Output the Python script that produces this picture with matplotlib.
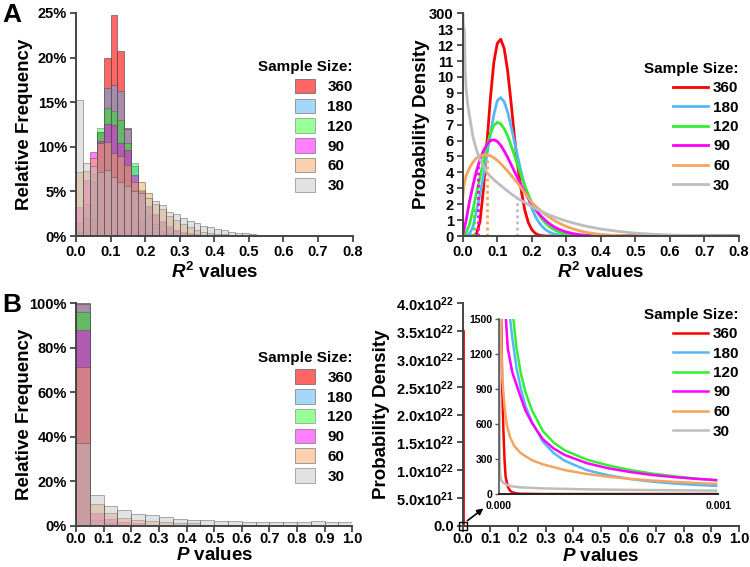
import numpy as np
import matplotlib
matplotlib.use('Agg')
import matplotlib.pyplot as plt

plt.rcParams.update({
    'font.family': ['Liberation Sans', 'DejaVu Sans'],
    'font.weight': 'bold',
    'axes.labelweight': 'bold',
    'mathtext.fontset': 'custom',
    'mathtext.rm': 'Liberation Sans:bold',
    'mathtext.bf': 'Liberation Sans:bold',
    'mathtext.it': 'Liberation Sans:bold:italic',
    'mathtext.default': 'rm',
})

# ---------------- data ----------------
sample_sizes = ['360', '180', '120', '90', '60', '30']
line_colors = ['#FF0000', '#55B8F5', '#33EE33', '#FF00FF', '#F4A460', '#BDBDBD']
fill_colors = ['#FF0000', '#4FB0F0', '#00FF00', '#FF00FF', '#F4A460', '#C0C0C0']
fill_alpha = [0.6, 0.5, 0.4, 0.5, 0.5, 0.45]

# Panel A left: R^2 histograms (% per 0.02 bin starting at 0)
r2_bin_width = 0.02
r2_hist_360 = [0, 0.1, 1.9, 11.7, 19.9, 24.8, 20.7, 12.1, 5.2, 1.8, 0.5, 0.1]
r2_hist_180 = [0.4, 2.0, 6.0, 11.7, 16.6, 16.9, 16.2, 12.0, 7.8, 4.6, 2.4, 1.3, 0.6, 0.3, 0.12, 0.05]
r2_hist_120 = [1.5, 3.6, 7.0, 12.07, 14.4, 14.0, 13.0, 10.4, 8.2, 5.2, 3.4, 2.4, 1.6, 0.95, 0.6, 0.35,
               0.2, 0.1, 0.05]
r2_hist_90 = [3.2, 6.3, 9.45, 10.6, 12.6, 12.5, 10.4, 9.6, 6.85, 5.0, 3.4, 2.5, 1.7, 1.1, 0.7, 0.45,
              0.3, 0.2, 0.12, 0.07, 0.04]
r2_hist_60 = [7.15, 7.3, 8.8, 10.4, 10.5, 9.3, 9.0, 8.0, 6.1, 6.1, 4.8, 3.6, 3.0, 2.25, 1.8, 1.3,
              1.0, 0.7, 0.5, 0.35, 0.25, 0.17, 0.1, 0.07, 0.04, 0.02]
r2_hist_30 = [15.3, 8.15, 7.85, 7.2, 7.4, 6.6, 6.1, 5.6, 5.0, 4.8, 4.3, 3.9, 3.44, 2.65, 2.47, 2.06,
              1.72, 1.42, 1.12, 0.97, 0.78, 0.67, 0.49, 0.34, 0.3, 0.22, 0.16, 0.12, 0.1, 0.08,
              0.06, 0.05, 0.03]
r2_hists = [r2_hist_360, r2_hist_180, r2_hist_120, r2_hist_90, r2_hist_60, r2_hist_30]

# Panel A right: R^2 probability densities
dens_360_x = [0.0, 0.03, 0.04, 0.05, 0.06, 0.07, 0.08, 0.09, 0.10, 0.11, 0.12, 0.13, 0.14, 0.15,
              0.16, 0.17, 0.18, 0.19, 0.20, 0.21, 0.22, 0.23, 0.24, 0.8]
dens_360_y = [0, 0, 0.15, 0.9, 2.9, 5.8, 8.6, 10.9, 12.1, 12.37, 11.8, 10.4, 8.4, 6.2, 4.3, 2.8,
              1.6, 0.85, 0.4, 0.17, 0.06, 0.02, 0, 0]
dens_180_x = [0.0, 0.01, 0.02, 0.03, 0.04, 0.05, 0.06, 0.07, 0.08, 0.09, 0.10, 0.11, 0.12, 0.13,
              0.14, 0.15, 0.16, 0.17, 0.18, 0.19, 0.20, 0.21, 0.22, 0.23, 0.24, 0.25, 0.26, 0.27,
              0.28, 0.30, 0.8]
dens_180_y = [0, 0.02, 0.15, 0.6, 1.6, 2.6, 3.8, 5.1, 6.4, 7.6, 8.5, 8.7, 8.45, 7.8, 6.9, 5.9, 4.9,
              3.95, 3.1, 2.35, 1.75, 1.25, 0.88, 0.6, 0.4, 0.26, 0.16, 0.1, 0.06, 0.02, 0]
dens_120_x = [0.0, 0.01, 0.02, 0.03, 0.04, 0.05, 0.06, 0.07, 0.08, 0.09, 0.10, 0.11, 0.12, 0.13,
              0.14, 0.15, 0.16, 0.17, 0.18, 0.19, 0.20, 0.21, 0.22, 0.23, 0.24, 0.25, 0.26, 0.27,
              0.28, 0.29, 0.30, 0.32, 0.34, 0.36, 0.8]
dens_120_y = [0, 0.2, 0.75, 1.7, 2.7, 3.7, 4.7, 5.6, 6.4, 6.95, 7.15, 7.05, 6.75, 6.3, 5.7, 5.05,
              4.4, 3.75, 3.15, 2.6, 2.1, 1.7, 1.35, 1.05, 0.8, 0.6, 0.45, 0.33, 0.24, 0.17, 0.12,
              0.06, 0.03, 0.01, 0]
dens_90_x = [0.0, 0.005, 0.01, 0.02, 0.03, 0.04, 0.05, 0.06, 0.07, 0.08, 0.09, 0.10, 0.11, 0.12,
             0.13, 0.14, 0.15, 0.16, 0.17, 0.18, 0.19, 0.20, 0.21, 0.22, 0.23, 0.24, 0.25, 0.26,
             0.27, 0.28, 0.29, 0.30, 0.32, 0.34, 0.36, 0.38, 0.40, 0.8]
dens_90_y = [0, 0.5, 1.0, 2.2, 3.2, 4.1, 4.8, 5.35, 5.75, 6.0, 6.05, 5.95, 5.7, 5.35, 4.95, 4.5,
             4.05, 3.6, 3.15, 2.75, 2.35, 2.0, 1.7, 1.42, 1.18, 0.97, 0.79, 0.64, 0.51, 0.41, 0.32,
             0.25, 0.15, 0.08, 0.04, 0.02, 0.01, 0]
dens_60_x = [0.0, 0.004, 0.01, 0.02, 0.03, 0.04, 0.05, 0.06, 0.07, 0.08, 0.09, 0.10, 0.11, 0.12,
             0.13, 0.14, 0.15, 0.16, 0.17, 0.18, 0.19, 0.20, 0.22, 0.24, 0.26, 0.28, 0.30, 0.32,
             0.34, 0.36, 0.38, 0.40, 0.42, 0.44, 0.46, 0.48, 0.50, 0.52]
dens_60_y = [2.4, 3.2, 3.8, 4.3, 4.65, 4.9, 5.03, 5.1, 5.1, 5.05, 4.92, 4.75, 4.55, 4.32, 4.08,
             3.82, 3.56, 3.3, 3.0, 2.7, 2.4, 2.1, 1.7, 1.35, 1.05, 0.8, 0.6, 0.44, 0.32, 0.22,
             0.15, 0.1, 0.065, 0.04, 0.025, 0.015, 0.008, 0]
dens_30_x = [0.001, 0.002, 0.003, 0.004, 0.005, 0.006, 0.007, 0.01, 0.015, 0.02, 0.03, 0.04, 0.05,
             0.06, 0.07, 0.08, 0.09, 0.10, 0.12, 0.14, 0.16, 0.18, 0.20, 0.22, 0.24, 0.26, 0.28,
             0.30, 0.33, 0.36, 0.40, 0.45, 0.50, 0.55, 0.60, 0.65, 0.70, 0.75, 0.80]
dens_30_y = [300, 100, 40, 22, 15, 12, 10.5, 9.2, 8.2, 7.5, 6.2, 5.4, 4.8, 4.35, 4.0, 3.75, 3.55,
             3.35, 3.0, 2.65, 2.35, 2.1, 1.85, 1.62, 1.42, 1.24, 1.08, 0.94, 0.76, 0.6, 0.44, 0.29,
             0.18, 0.11, 0.065, 0.035, 0.018, 0.008, 0.003]
dens_x = [dens_360_x, dens_180_x, dens_120_x, dens_90_x, dens_60_x, dens_30_x]
dens_y = [dens_360_y, dens_180_y, dens_120_y, dens_90_y, dens_60_y, dens_30_y]
# critical R^2 (dotted markers) and the density there
crit_r2 = [0.012, 0.021, 0.032, 0.044, 0.070, 0.157]
crit_dens = [0.0, 0.2, 1.9, 4.4, 5.1, 2.4]
dens_yticks = [0, 1, 2, 3, 4, 5, 6, 7, 8, 9, 10, 11, 12, 13, 300]

# Panel B left: P-value histograms (% per 0.05 bin)
p_bin_width = 0.05
p_hist_360 = [100.0]
p_hist_180 = [99.6, 0.3, 0.1]
p_hist_120 = [96.0, 2.5, 1.3, 0.35, 0.15, 0.1, 0.05]
p_hist_90 = [88.2, 5.5, 2.8, 1.5, 1.0, 0.5, 0.3, 0.2, 0.15, 0.1, 0.05]
p_hist_60 = [71.4, 9.9, 5.5, 3.3, 2.7, 2.1, 1.5, 1.3, 1.2, 0.5, 0.4, 0.3, 0.3, 0.2, 0.1, 0.1, 0.1,
             0.05, 0.05, 0.05]
p_hist_30 = [37.3, 13.6, 8.8, 6.9, 5.4, 4.6, 3.7, 3.1, 2.7, 2.7, 2.2, 2.2, 1.8, 1.8, 1.65, 1.8,
             1.65, 1.95, 1.5, 1.8]
p_hists = [p_hist_360, p_hist_180, p_hist_120, p_hist_90, p_hist_60, p_hist_30]

# Panel B right: P-value densities (main axis: only the n=360 spike is visible)
pmain_360_x = [0.002, 0.002, 0.004, 1.0]
pmain_360_y = [3.5e22, 0, 0, 0]
pmain_yticks = [0, 0.5e22, 1.0e22, 1.5e22, 2.0e22, 2.5e22, 3.0e22, 3.5e22, 4.0e22]
pmain_yticklabels = ['0.0', '5.0x10$^{21}$', '1.0x10$^{22}$', '1.5x10$^{22}$', '2.0x10$^{22}$',
                     '2.5x10$^{22}$', '3.0x10$^{22}$', '3.5x10$^{22}$', '4.0x10$^{22}$']
# inset (P from 0 to 0.001)
pin_360_x = [0.000008, 0.00001, 0.000015, 0.00002, 0.000025, 0.00003, 0.00004, 0.00005, 0.00006,
             0.00008, 0.0001, 0.0002, 0.00099]
pin_360_y = [2500, 1500, 900, 550, 300, 150, 63, 30, 15, 5, 2, 0, 0]
pin_180_x = [0.000045, 0.00006, 0.00008, 0.0001, 0.00012, 0.00015, 0.0002, 0.00025, 0.0003,
             0.0004, 0.0005, 0.0006, 0.0007, 0.0008, 0.0009, 0.00099]
pin_180_y = [1600, 1350, 1080, 900, 760, 620, 450, 350, 285, 205, 160, 128, 106, 90, 78, 70]
pin_120_x = [0.00006, 0.00008, 0.0001, 0.00012, 0.00015, 0.0002, 0.00025, 0.0003, 0.0004, 0.0005,
             0.0006, 0.0007, 0.0008, 0.0009, 0.00099]
pin_120_y = [1600, 1250, 1030, 880, 720, 540, 440, 375, 295, 245, 205, 175, 152, 132, 117]
pin_90_x = [0.000028, 0.00004, 0.00006, 0.00009, 0.00012, 0.00015, 0.0002, 0.00025, 0.0003,
            0.0004, 0.0005, 0.0006, 0.0007, 0.0008, 0.0009, 0.00099]
pin_90_y = [1600, 1250, 1050, 880, 720, 610, 470, 390, 335, 265, 220, 188, 163, 145, 130, 120]
pin_60_x = [0.000007, 0.00001, 0.000015, 0.000025, 0.000035, 0.00005, 0.00007, 0.0001, 0.00015,
            0.0002, 0.0003, 0.0004, 0.0005, 0.0006, 0.0007, 0.0008, 0.0009, 0.00099]
pin_60_y = [1600, 1300, 1000, 750, 600, 490, 410, 350, 290, 255, 205, 172, 148, 130, 115, 104, 94, 87]
pin_30_x = [0.000001, 0.000003, 0.000005, 0.00001, 0.00002, 0.00004, 0.00007, 0.0001, 0.0002,
            0.0004, 0.0006, 0.0008, 0.00099]
pin_30_y = [1600, 400, 180, 120, 95, 75, 63, 57, 48, 40, 35, 32, 29]
pin_x = [pin_360_x, pin_180_x, pin_120_x, pin_90_x, pin_60_x, pin_30_x]
pin_y = [pin_360_y, pin_180_y, pin_120_y, pin_90_y, pin_60_y, pin_30_y]
pin_yticks = [0, 300, 600, 900, 1200, 1500]

# ---------------- styling helpers ----------------
W, H = 750, 567
fig = plt.figure(figsize=(W / 100, H / 100), dpi=100)


def px_axes(x0, y0, x1, y1):
    return fig.add_axes([x0 / W, 1 - y1 / H, (x1 - x0) / W, (y1 - y0) / H])


SPINE = '#444444'


def style(ax, xpad=2):
    for s in ['top', 'right']:
        ax.spines[s].set_visible(False)
    for s in ['left', 'bottom']:
        ax.spines[s].set_color(SPINE)
        ax.spines[s].set_linewidth(1.4)
    ax.tick_params(direction='out', length=4.5, width=1.3, color=SPINE, labelsize=10.5, pad=2)
    ax.tick_params(axis='x', pad=xpad)
    ax.set_facecolor('none')


def legend(ax, handles, x, y, patch=True):
    kw = dict(handlelength=1.35, handleheight=1.09, handletextpad=0.8, labelspacing=0.28) if patch \
        else dict(handlelength=2.3, handletextpad=0.3, labelspacing=0.36)
    lg = ax.legend(handles, sample_sizes, title='Sample Size:', loc='upper right',
                   bbox_to_anchor=(x / W, 1 - y / H), bbox_transform=fig.transFigure,
                   frameon=False, borderpad=0, borderaxespad=0,
                   alignment='right', prop={'size': 11, 'weight': 'bold'},
                   title_fontproperties={'size': 11, 'weight': 'bold'}, **kw)
    return lg


pct = lambda vals: [f'{v}%' for v in vals]

# ---------------- Panel A left ----------------
ax = px_axes(76, 13, 352.5, 236)
style(ax)
handles = []
for vals, c, a in zip(r2_hists, fill_colors, fill_alpha):
    left = np.arange(len(vals)) * r2_bin_width
    b = ax.bar(left, vals, width=r2_bin_width, align='edge', color=c, alpha=a,
               edgecolor='#4a4a4a', linewidth=0.7)
    handles.append(b)
ax.set_xlim(0, 0.8)
ax.set_ylim(0, 25)
ax.set_xticks(np.round(np.arange(0, 0.81, 0.1), 1))
ax.set_xticklabels([f'{v:.1f}' for v in np.arange(0, 0.81, 0.1)])
a_yt = [0, 5, 10, 15, 20, 25]
ax.set_yticks(a_yt)
ax.set_yticklabels(pct(a_yt))
ax.set_ylabel('Relative Frequency', fontsize=13.5)
ax.yaxis.set_label_coords(-0.155, 0.5)
ax.set_xlabel(r'$\mathit{R}^{2}$ values', fontsize=13.5)
ax.xaxis.set_label_coords(0.5, -0.118)
legend(ax, handles, 353, 60.5)

# ---------------- Panel A right ----------------
ax = px_axes(462.7, 13.3, 739, 236)
style(ax)


def fwd(y):
    y = np.asarray(y, dtype=float)
    return np.where(y <= 13, y, 13 + (y - 13) / 287.0)


def inv(t):
    t = np.asarray(t, dtype=float)
    return np.where(t <= 13, t, 13 + (t - 13) * 287.0)


ax.set_yscale('function', functions=(fwd, inv))
lines = []
for xs, ys, c in zip(dens_x, dens_y, line_colors):
    ln, = ax.plot(xs, ys, color=c, lw=2.0, solid_joinstyle='round')
    lines.append(ln)
ax.vlines(crit_r2, 0, crit_dens, colors=line_colors, linestyles=(0, (1, 1.2)), lw=2.0)
ax.set_xlim(0, 0.8)
ax.set_ylim(0, 300)
ax.set_yticks(dens_yticks)
ax.set_yticklabels([str(v) for v in dens_yticks])
ax.yaxis.set_minor_locator(matplotlib.ticker.NullLocator())
ax.set_xticks(np.round(np.arange(0, 0.81, 0.1), 1))
ax.set_xticklabels([f'{v:.1f}' for v in np.arange(0, 0.81, 0.1)])
ax.set_ylabel('Probability Density', fontsize=13.5)
ax.yaxis.set_label_coords(-0.118, 0.5)
ax.set_xlabel(r'$\mathit{R}^{2}$ values', fontsize=13.5)
ax.xaxis.set_label_coords(0.5, -0.118)
legend(ax, lines, 738.5, 61.5, patch=False)

# ---------------- Panel B left ----------------
ax = px_axes(76, 303.3, 352.3, 525.7)
style(ax, xpad=0)
handles = []
for vals, c, a in zip(p_hists, fill_colors, fill_alpha):
    left = np.arange(len(vals)) * p_bin_width
    b = ax.bar(left, vals, width=p_bin_width, align='edge', color=c, alpha=a,
               edgecolor='#4a4a4a', linewidth=0.7)
    handles.append(b)
ax.set_xlim(0, 1.0)
ax.set_ylim(0, 100)
ax.set_xticks(np.round(np.arange(0, 1.01, 0.1), 1))
ax.set_xticklabels([f'{v:.1f}' for v in np.arange(0, 1.01, 0.1)])
b_yt = [0, 20, 40, 60, 80, 100]
ax.set_yticks(b_yt)
ax.set_yticklabels(pct(b_yt))
ax.set_ylabel('Relative Frequency', fontsize=13.5)
ax.yaxis.set_label_coords(-0.155, 0.5)
ax.set_xlabel(r'$\mathit{P}$ values', fontsize=13.5)
ax.xaxis.set_label_coords(0.5, -0.097)
legend(ax, handles, 353, 351)

# ---------------- Panel B right ----------------
ax = px_axes(462.7, 303.3, 739, 525.7)
style(ax, xpad=0)
ax.plot(pmain_360_x, pmain_360_y, color=line_colors[0], lw=2.0)
ax.set_xlim(0, 1.0)
ax.set_ylim(0, 4.0e22)
ax.set_yticks(pmain_yticks)
ax.set_yticklabels(pmain_yticklabels)
ax.set_xticks(np.round(np.arange(0, 1.01, 0.1), 1))
ax.set_xticklabels([f'{v:.1f}' for v in np.arange(0, 1.01, 0.1)])
ax.set_ylabel('Probability Density', fontsize=13.5)
ax.yaxis.set_label_coords(-0.263, 0.5)
ax.set_xlabel(r'$\mathit{P}$ values', fontsize=13.5)
ax.xaxis.set_label_coords(0.5, -0.099)
ax.plot([0], [0], marker='s', ms=5.5, mfc='none', mec='black', mew=1.0, clip_on=False, zorder=5)
ax.annotate('', xy=(0.075, 0.31e22), xytext=(0.017, 0.09e22),
            arrowprops=dict(arrowstyle='-|>', color='black', lw=1.2, mutation_scale=9,
                            shrinkA=0, shrinkB=0), annotation_clip=False)
main_ax = ax

# inset
ins = px_axes(499, 319.3, 718.3, 494)
ins.set_facecolor('none')
for s in ['top', 'right']:
    ins.spines[s].set_visible(False)
ins.spines['left'].set_color('#555555')
ins.spines['left'].set_linewidth(1.2)
ins.spines['bottom'].set_color('#222222')
ins.spines['bottom'].set_linewidth(1.4)
lines = []
for xs, ys, c in zip(pin_x, pin_y, line_colors):
    ln, = ins.plot(xs, ys, color=c, lw=1.8)
    lines.append(ln)
ins.set_xlim(0, 0.001)
ins.set_ylim(0, 1500)
ins.set_yticks(pin_yticks)
ins.set_yticklabels([str(v) for v in pin_yticks])
ins.set_xticks([0, 0.001])
ins.set_xticklabels(['0.000', '0.001'])
ins.tick_params(axis='y', direction='out', length=3, width=1.0, color='#555555', labelsize=7.5, pad=1.5)
ins.tick_params(axis='x', length=0, labelsize=7.5, pad=5)
legend(main_ax, lines, 738.5, 307.5, patch=False)

# panel letters
fig.text(2 / W, 1 - 21.7 / H, 'A', fontsize=19, fontweight='bold', va='baseline', ha='left')
fig.text(2 / W, 1 - 312 / H, 'B', fontsize=19, fontweight='bold', va='baseline', ha='left')

fig.savefig('out.png', dpi=100)
